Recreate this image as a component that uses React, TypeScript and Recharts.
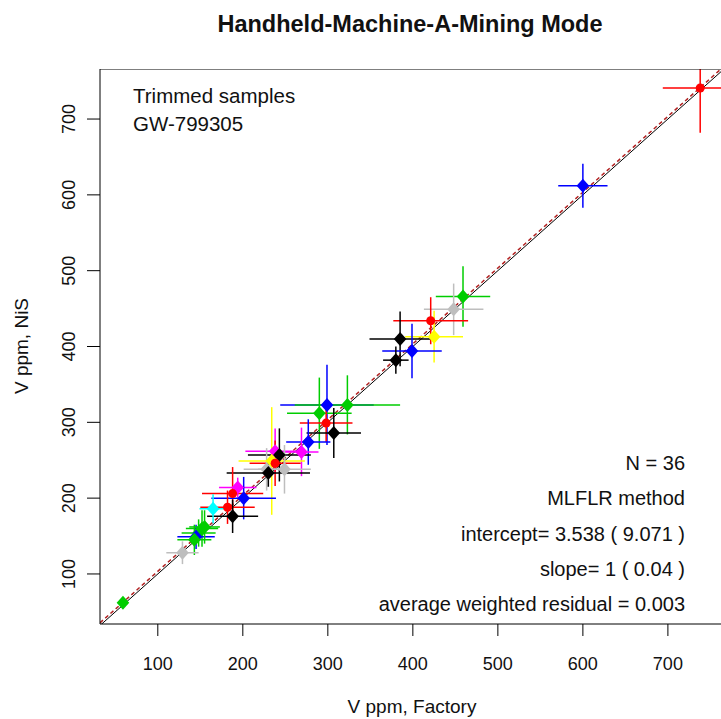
// Handheld-Machine-A-Mining Mode: V ppm, Factory vs NiS, mit Fehlerbalken in x und y
import {
  ScatterChart, Scatter, XAxis, YAxis, ErrorBar, ReferenceLine,
} from 'recharts'

const xVals = [738, 600, 459, 448, 421, 425, 385, 399, 380, 299, 290, 323, 298, 307, 277, 269, 238, 243, 234, 238, 228, 249, 230, 194, 188, 201, 182, 188, 165, 152, 148, 145, 143, 129, 59, 155]
const yVals = [741, 612, 466, 449, 434, 413, 410, 394, 382, 323, 312, 323, 299, 286, 274, 261, 262, 257, 249, 246, 238, 238, 233, 214, 206, 200, 188, 176, 186, 160, 154, 149, 145, 128, 62, 162]
const xErr = [44, 29, 32, 35, 44, 34, 36, 35, 15, 55, 38, 62, 31, 32, 26, 20, 35, 37, 39, 30, 27, 31, 49, 22, 36, 38, 32, 30, 16, 19, 20, 22, 20, 19, 4, 18]
const yErr = [59, 29, 40, 34, 31, 34, 36, 36, 18, 53, 47, 39, 25, 33, 30, 32, 30, 35, 71, 30, 28, 32, 18, 13, 35, 28, 22, 22, 19, 24, 18, 16, 20, 15, 4, 22]
const pointColors = ['red', 'blue', 'green', 'gray', 'red', 'yellow', 'black', 'blue', 'black', 'blue', 'green', 'green', 'red', 'black', 'blue', 'magenta', 'magenta', 'black', 'yellow', 'red', 'gray', 'gray', 'black', 'magenta', 'red', 'blue', 'red', 'black', 'cyan', 'green', 'green', 'blue', 'green', 'gray', 'green', 'green']

const xTicks = [100, 200, 300, 400, 500, 600, 700]
const yTicks = [100, 200, 300, 400, 500, 600, 700]
const xDomain = [32, 766]
const yDomain = [34, 766]

const fitIntercept = 3.538
const fitSlope = 1

const statLines = ['N = 36', 'MLFLR method', 'intercept= 3.538 ( 9.071 )', 'slope= 1 ( 0.04 )', 'average weighted residual = 0.003']

// R-Farben
const COLORS: Record<string, string> = {
  red: '#FF0000',
  blue: '#0000FF',
  green: '#00CD00',
  gray: '#BEBEBE',
  yellow: '#FFFF00',
  black: '#000000',
  magenta: '#FF00FF',
  cyan: '#00FFFF',
}

const FONT = '"Liberation Sans", Arial, sans-serif'

const points = xVals.map((x, i) => ({
  x,
  y: yVals[i],
  ex: xErr[i],
  ey: yErr[i],
  color: COLORS[pointColors[i]],
  round: pointColors[i] === 'red',
}))

function Marker(props: any) {
  const { cx, cy, payload } = props
  if (cx == null || cy == null) return <g />
  if (payload.round) {
    return <circle cx={cx} cy={cy} r={4.5} fill={payload.color} />
  }
  const r = 7
  return (
    <polygon
      points={`${cx},${cy - r} ${cx + r * 0.9},${cy} ${cx},${cy + r} ${cx - r * 0.9},${cy}`}
      fill={payload.color}
    />
  )
}

function XTick(props: any) {
  const { x, y, payload } = props
  return (
    <text x={x} y={y + 32} textAnchor="middle" fontSize={18} fontFamily={FONT} fill="#111">
      {payload.value}
    </text>
  )
}

function YTick(props: any) {
  const { y, payload } = props
  const tx = 75
  return (
    <text x={tx} y={y} textAnchor="middle" fontSize={18} fontFamily={FONT} fill="#111"
      transform={`rotate(-90 ${tx} ${y})`}>
      {payload.value}
    </text>
  )
}

export default function App() {
  const x0 = xDomain[0]
  const x1 = xDomain[1]
  return (
    <div style={{ position: 'absolute', left: 0, top: 0, width: 721, height: 719, overflow: 'hidden', background: '#fff', fontFamily: FONT }}>
      <ScatterChart width={740} height={719} margin={{ top: 69, right: 16, bottom: 0, left: 0 }}>
        <XAxis
          type="number"
          dataKey="x"
          domain={xDomain}
          ticks={xTicks}
          allowDataOverflow
          height={95}
          tickSize={12}
          stroke="#000"
          tick={<XTick />}
        />
        <YAxis
          type="number"
          dataKey="y"
          domain={yDomain}
          ticks={yTicks}
          allowDataOverflow
          width={100}
          tickSize={13}
          stroke="#000"
          tick={<YTick />}
        />
        <ReferenceLine
          segment={[{ x: x0, y: x0 }, { x: x1, y: x1 }]}
          stroke="#000"
          strokeWidth={1}
          ifOverflow="hidden"
        />
        <ReferenceLine
          segment={[{ x: x0, y: fitIntercept + fitSlope * x0 }, { x: x1, y: fitIntercept + fitSlope * x1 }]}
          stroke="#B22222"
          strokeWidth={1.5}
          strokeDasharray="4 3"
          ifOverflow="hidden"
        />
        {points.map((p, i) => (
          <Scatter key={`e${i}`} data={[p]} isAnimationActive={false} shape={() => <g />}>
            <ErrorBar dataKey="ex" direction="x" width={0} stroke={p.color} strokeWidth={1.5} isAnimationActive={false} />
            <ErrorBar dataKey="ey" direction="y" width={0} stroke={p.color} strokeWidth={1.5} isAnimationActive={false} />
          </Scatter>
        ))}
        {points.map((p, i) => (
          <Scatter key={`p${i}`} data={[p]} isAnimationActive={false} shape={<Marker />} />
        ))}
        <ReferenceLine y={yDomain[1]} stroke="#000" strokeWidth={1} />
      </ScatterChart>

      {/* Plotbereich oben abschneiden (Fehlerbalken ragen sonst heraus) */}
      <div style={{ position: 'absolute', left: 0, top: 0, width: 721, height: 68.5, background: '#fff' }} />

      <div style={{ position: 'absolute', left: 410, top: 24, transform: 'translate(-50%, -50%)', fontSize: 23.5, fontWeight: 'bold', whiteSpace: 'nowrap', color: '#111' }}>
        Handheld-Machine-A-Mining Mode
      </div>
      <div style={{ position: 'absolute', left: 412, top: 707, transform: 'translate(-50%, -50%)', fontSize: 19, whiteSpace: 'nowrap', color: '#111' }}>
        V ppm, Factory
      </div>
      <div style={{ position: 'absolute', left: 22, top: 346, transform: 'translate(-50%, -50%) rotate(-90deg)', fontSize: 19, whiteSpace: 'nowrap', color: '#111' }}>
        V ppm, NiS
      </div>
      <div style={{ position: 'absolute', left: 133, top: 96, transform: 'translateY(-50%)', fontSize: 20.5, whiteSpace: 'nowrap', color: '#111' }}>
        Trimmed samples
      </div>
      <div style={{ position: 'absolute', left: 133, top: 124, transform: 'translateY(-50%)', fontSize: 20.5, whiteSpace: 'nowrap', color: '#111' }}>
        GW-799305
      </div>
      {statLines.map((s, i) => (
        <div key={s} style={{ position: 'absolute', right: 721 - 685, top: 463 + i * 35.3, transform: 'translateY(-50%)', fontSize: 20, whiteSpace: 'nowrap', color: '#111' }}>
          {s}
        </div>
      ))}
    </div>
  )
}
